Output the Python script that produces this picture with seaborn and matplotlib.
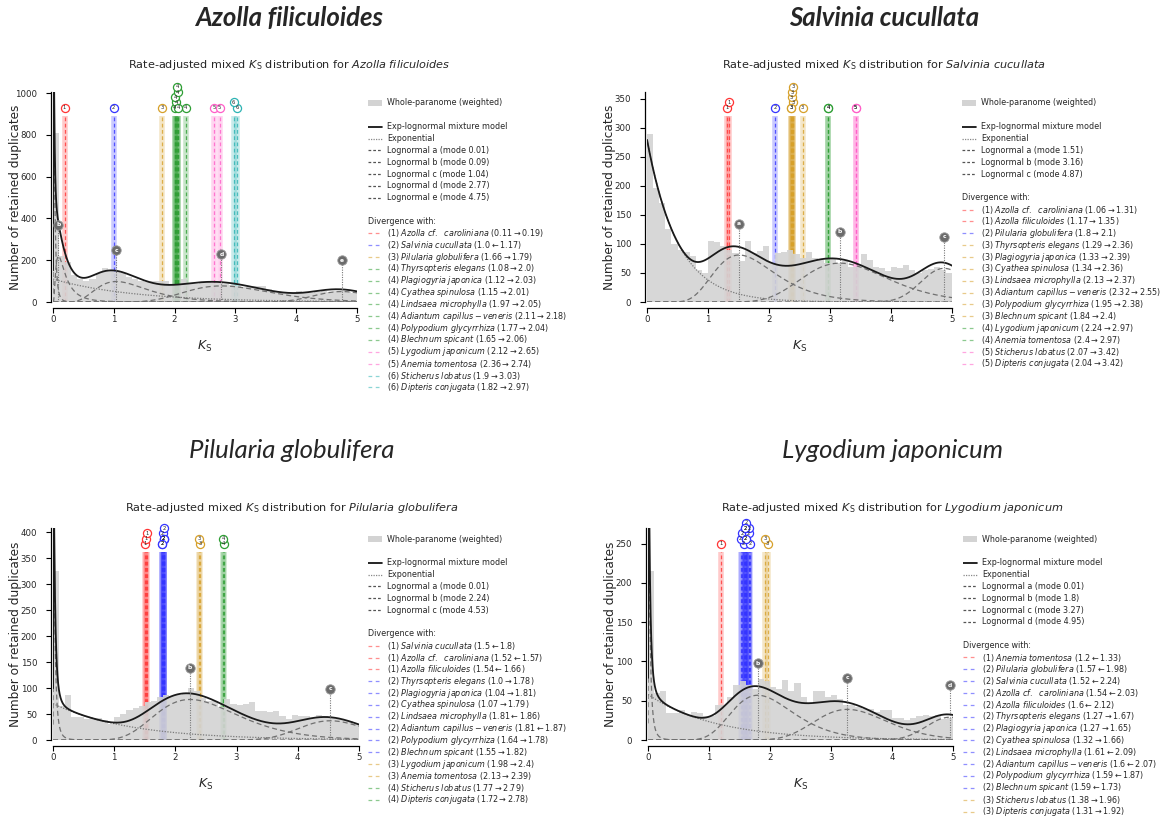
import numpy as np
import pandas as pd
import matplotlib
matplotlib.use("Agg")
import matplotlib.pyplot as plt
import seaborn as sns
from matplotlib.lines import Line2D
from matplotlib.patches import Rectangle

sns.set_style("ticks")
plt.rcParams["font.family"] = ["DejaVu Sans"]
plt.rcParams["mathtext.fontset"] = "dejavusans"

W, H, DPI = 1164, 822, 100

# ---------------------------------------------------------------- shared
KS_BIN_WIDTH = 0.1
KS_BIN_CENTERS = np.arange(50) * KS_BIN_WIDTH + KS_BIN_WIDTH / 2
GROUP_COLORS = {1: "#ff3434", 2: "#3434ff", 3: "#d6a02a", 4: "#2e9e34",
                5: "#ff5ec8", 6: "#2db3b3"}
KS_LABEL = r"$K_\mathrm{S}$"

# ---------------------------------------------------------------- Azolla filiculoides
azo_name = "Azolla filiculoides"
azo_counts = [810, 220, 190, 130, 110, 100, 110, 140, 165, 155,
              145, 140, 120, 110, 100, 95, 100, 100, 100, 85,
              80, 110, 90, 85, 95, 95, 90, 90, 85, 80,
              75, 70, 75, 75, 75, 60, 55, 50, 45, 45,
              55, 50, 45, 50, 55, 50, 55, 55, 50, 45]
azo_exp_amp, azo_exp_scale = 110, 1.3
azo_letters = ["a", "b", "c", "d", "e"]
azo_modes = [0.01, 0.09, 1.04, 2.77, 4.75]
azo_peaks = [1100, 220, 98, 77, 50]
azo_sigmas = [0.9, 0.8, 0.4, 0.25, 0.1]
azo_groups = [1, 2, 3, 4, 4, 4, 4, 4, 4, 4, 5, 5, 6, 6]
azo_species = ["Azolla cf.  caroliniana", "Salvinia cucullata", "Pilularia globulifera",
               "Thyrsopteris elegans", "Plagiogyria japonica", "Cyathea spinulosa",
               "Lindsaea microphylla", "Adiantum capillus-veneris", "Polypodium glycyrrhiza",
               "Blechnum spicant", "Lygodium japonicum", "Anemia tomentosa",
               "Sticherus lobatus", "Dipteris conjugata"]
azo_ks_left = [0.11, 1.0, 1.66, 1.08, 1.12, 1.15, 1.97, 2.11, 1.77, 1.65, 2.12, 2.36, 1.9, 1.82]
azo_ks_right = [0.19, 1.17, 1.79, 2.0, 2.03, 2.01, 2.05, 2.18, 2.04, 2.06, 2.65, 2.74, 3.03, 2.97]
azo_arrows = ["→", "←", "→", "→", "→", "→", "→", "→", "→", "→", "→", "→", "→", "→"]
azo_ymax, azo_yticks = 1005, [0, 200, 400, 600, 800, 1000]

# ---------------------------------------------------------------- Salvinia cucullata
sal_name = "Salvinia cucullata"
sal_counts = [290, 196, 170, 125, 100, 90, 87, 79, 56, 50,
              105, 103, 96, 90, 85, 70, 105, 85, 88, 96,
              67, 85, 87, 90, 82, 76, 87, 76, 73, 67,
              76, 67, 70, 61, 61, 82, 72, 61, 59, 53,
              61, 59, 63, 56, 50, 56, 57, 61, 56, 50]
sal_exp_amp, sal_exp_scale = 280, 0.5
sal_letters = ["a", "b", "c"]
sal_modes = [1.51, 3.16, 4.87]
sal_peaks = [81, 67, 58]
sal_sigmas = [0.33, 0.22, 0.08]
sal_groups = [1, 1, 2, 3, 3, 3, 3, 3, 3, 3, 4, 4, 5, 5]
sal_species = ["Azolla cf.  caroliniana", "Azolla filiculoides", "Pilularia globulifera",
               "Thyrsopteris elegans", "Plagiogyria japonica", "Cyathea spinulosa",
               "Lindsaea microphylla", "Adiantum capillus-veneris", "Polypodium glycyrrhiza",
               "Blechnum spicant", "Lygodium japonicum", "Anemia tomentosa",
               "Sticherus lobatus", "Dipteris conjugata"]
sal_ks_left = [1.06, 1.17, 1.8, 1.29, 1.33, 1.34, 2.13, 2.32, 1.95, 1.84, 2.24, 2.4, 2.07, 2.04]
sal_ks_right = [1.31, 1.35, 2.1, 2.36, 2.39, 2.36, 2.37, 2.55, 2.38, 2.4, 2.97, 2.97, 3.42, 3.42]
sal_arrows = ["→"] * 14
sal_ymax, sal_yticks = 362, [0, 50, 100, 150, 200, 250, 300, 350]

# ---------------------------------------------------------------- Pilularia globulifera
pil_name = "Pilularia globulifera"
pil_counts = [325, 65, 87, 45, 45, 40, 42, 43, 38, 30,
              45, 50, 58, 62, 65, 73, 75, 82, 86, 85,
              87, 90, 100, 95, 80, 75, 75, 63, 78, 70,
              68, 70, 74, 55, 55, 54, 56, 47, 40, 48,
              46, 47, 43, 48, 47, 45, 40, 38, 36, 30]
pil_exp_amp, pil_exp_scale = 70, 1.25
pil_letters = ["a", "b", "c"]
pil_modes = [0.01, 2.24, 4.53]
pil_peaks = [420, 78, 37]
pil_sigmas = [1.0, 0.3, 0.12]
pil_groups = [1, 1, 1, 2, 2, 2, 2, 2, 2, 2, 3, 3, 4, 4]
pil_species = ["Salvinia cucullata", "Azolla cf.  caroliniana", "Azolla filiculoides",
               "Thyrsopteris elegans", "Plagiogyria japonica", "Cyathea spinulosa",
               "Lindsaea microphylla", "Adiantum capillus-veneris", "Polypodium glycyrrhiza",
               "Blechnum spicant", "Lygodium japonicum", "Anemia tomentosa",
               "Sticherus lobatus", "Dipteris conjugata"]
pil_ks_left = [1.5, 1.52, 1.54, 1.0, 1.04, 1.07, 1.81, 1.81, 1.64, 1.55, 1.98, 2.13, 1.77, 1.72]
pil_ks_right = [1.8, 1.57, 1.66, 1.78, 1.81, 1.79, 1.86, 1.87, 1.78, 1.82, 2.4, 2.39, 2.79, 2.78]
pil_arrows = ["←", "←", "←", "→", "→", "→", "←", "←", "→", "→", "→", "→", "→", "→"]
pil_ymax, pil_yticks = 408, [0, 50, 100, 150, 200, 250, 300, 350, 400]

# ---------------------------------------------------------------- Lygodium japonicum
lyg_name = "Lygodium japonicum"
lyg_counts = [215, 60, 62, 35, 35, 38, 32, 36, 35, 30,
              30, 45, 45, 55, 70, 75, 70, 65, 78, 75,
              68, 65, 76, 62, 72, 55, 46, 62, 63, 55,
              57, 52, 45, 45, 42, 40, 40, 36, 38, 38,
              28, 28, 25, 28, 30, 32, 30, 32, 27, 28]
lyg_exp_amp, lyg_exp_scale = 58, 1.1
lyg_letters = ["a", "b", "c", "d"]
lyg_modes = [0.01, 1.8, 3.27, 4.95]
lyg_peaks = [300, 57, 39, 29]
lyg_sigmas = [1.0, 0.28, 0.18, 0.08]
lyg_groups = [1, 2, 2, 2, 2, 2, 2, 2, 2, 2, 2, 2, 3, 3]
lyg_species = ["Anemia tomentosa", "Pilularia globulifera", "Salvinia cucullata",
               "Azolla cf.  caroliniana", "Azolla filiculoides", "Thyrsopteris elegans",
               "Plagiogyria japonica", "Cyathea spinulosa", "Lindsaea microphylla",
               "Adiantum capillus-veneris", "Polypodium glycyrrhiza", "Blechnum spicant",
               "Sticherus lobatus", "Dipteris conjugata"]
lyg_ks_left = [1.2, 1.57, 1.52, 1.54, 1.6, 1.27, 1.27, 1.32, 1.61, 1.6, 1.59, 1.59, 1.38, 1.31]
lyg_ks_right = [1.33, 1.98, 2.24, 2.03, 2.12, 1.67, 1.65, 1.66, 2.09, 2.07, 1.87, 1.73, 1.96, 1.92]
lyg_arrows = ["←", "←", "←", "←", "←", "→", "→", "→", "←", "←", "←", "←", "→", "→"]
lyg_ymax, lyg_yticks = 270, [0, 50, 100, 150, 200, 250]


def lognormal_component(x, mode, peak, sigma):
    """Lognormal density with the given mode, scaled to the given peak height."""
    mu = np.log(mode) + sigma ** 2
    shape = np.exp(-(np.log(x) - mu) ** 2 / (2 * sigma ** 2)) / x
    at_mode = np.exp(-(np.log(mode) - mu) ** 2 / (2 * sigma ** 2)) / mode
    return peak * shape / at_mode


def italic(text):
    return r"$\it{" + text.replace(" ", r"\ ") + "}$"


def draw_legend(fig, x0, y0, rows, text_dx=19, row_h=11.85, fs=5.8):
    n = len(rows)
    lax = fig.add_axes([x0 / W, 1 - (y0 + (n - 0.5) * row_h) / H, 215 / W, n * row_h / H])
    lax.set_xlim(0, 215)
    lax.set_ylim((n - 0.5) * row_h, -0.5 * row_h)
    lax.axis("off")
    for i, (kind, label, color) in enumerate(rows):
        y = i * row_h
        if kind == "patch":
            lax.add_patch(Rectangle((0, y - 2.6), 14, 5.2, color="#d3d3d3", lw=0))
        elif kind == "solid":
            lax.add_line(Line2D([0, 14], [y, y], color="black", lw=1.2))
        elif kind == "dotted":
            lax.add_line(Line2D([0, 14], [y, y], color="#888888", lw=0.9, ls=(0, (1, 1))))
        elif kind == "dashed":
            lax.add_line(Line2D([0, 14], [y, y], color="#555555", lw=0.9, ls=(0, (2.2, 1.6))))
        elif kind == "div":
            lax.add_line(Line2D([0, 14], [y, y], color=color, lw=0.9, alpha=0.55, ls=(0, (3, 2.8))))
        if kind == "header":
            lax.text(0, y, label, fontsize=fs, va="center", ha="left")
        elif label:
            lax.text(text_dx, y, label, fontsize=fs, va="center", ha="left")


def draw_panel(fig, box, name, counts, exp_amp, exp_scale, letters, modes, peaks, sigmas,
               groups, species, ks_left, ks_right, arrows, ymax, yticks,
               heading_bold, heading_y, title_cx, title_y, legend_xy):
    left, top, right, bottom = box
    ax = fig.add_axes([left / W, 1 - bottom / H, (right - left) / W, (bottom - top) / H])
    ax.set_facecolor("none")

    # rate-adjusted divergence lines of each species pair
    ks_final = [r if a == "→" else l for l, r, a in zip(ks_left, ks_right, arrows)]
    for ks, g in zip(ks_final, groups):
        c = GROUP_COLORS[g]
        ax.vlines(ks, 0, 0.885 * ymax, colors=c, lw=4.0, alpha=0.26, zorder=1)
        ax.vlines(ks, 0, 0.885 * ymax, colors=c, lw=0.9, alpha=0.8,
                  linestyles=(0, (3, 2)), zorder=1.5)

    # whole-paranome Ks histogram
    hist_df = pd.DataFrame({"ks": KS_BIN_CENTERS, "n": np.asarray(counts, dtype=float)})
    sns.histplot(data=hist_df, x="ks", weights="n", binwidth=KS_BIN_WIDTH, binrange=(0, 5),
                 color="#d3d3d3", alpha=0.9, linewidth=0, ax=ax, zorder=2)

    # mixture model and its components
    x = np.linspace(0.001, 5, 2500)
    expo = exp_amp * np.exp(-x / exp_scale)
    comps = [lognormal_component(x, m, p, s) for m, p, s in zip(modes, peaks, sigmas)]
    total = expo + np.sum(comps, axis=0)
    sns.lineplot(x=x, y=expo, color="#7a7a7a", lw=0.9, linestyle=(0, (1, 1.2)),
                 estimator=None, ax=ax, zorder=3)
    for comp in comps:
        sns.lineplot(x=x, y=comp, color="#707070", lw=0.9, linestyle=(0, (4, 2.5)),
                     estimator=None, ax=ax, zorder=3)
    sns.lineplot(x=x, y=total, color="#1a1a1a", lw=1.3, estimator=None, ax=ax, zorder=4)

    # component mode markers
    for letter, m, p in zip(letters, modes, peaks):
        yy = p + 0.15 * ymax
        if yy > ymax:
            continue
        ax.vlines(m, 0, yy, colors="#777777", lw=0.8, linestyles=(0, (1, 1.2)), zorder=5)
        ax.scatter([m], [yy], s=46, color="#6b6b6b", edgecolors="#9b9b9b", lw=0.6,
                   zorder=6, clip_on=False)
        ax.text(m, yy, letter, color="white", fontsize=4.3, ha="center", va="center",
                zorder=6.5, fontweight="bold")

    # numbered circles above the divergence lines; equal values share a circle,
    # nearby ones are stacked upwards
    placed = []
    for ks, g in zip(ks_final, groups):
        same = [lv for px, lv in placed if abs(ks - px) < 0.005]
        if same:
            level = same[0]
        else:
            level = 0
            while any(lv == level and abs(ks - px) < 0.06 for px, lv in placed):
                level += 1
        placed.append((ks, level))
        yy = (0.925 + 0.025 * level) * ymax
        ax.scatter([ks], [yy], s=34, facecolor="white", edgecolors=GROUP_COLORS[g],
                   lw=0.9, zorder=7, clip_on=False)
        ax.text(ks, yy, str(g), fontsize=3.8, ha="center", va="center", zorder=7.5,
                clip_on=False)

    ax.set_xlim(0, 5)
    ax.set_ylim(0, ymax)
    ax.set_xticks([0, 1, 2, 3, 4, 5])
    ax.set_yticks(yticks)
    ax.tick_params(labelsize=6.2, length=3.6, width=0.8, color="black")
    ax.tick_params(axis="y", pad=6.5)
    ax.tick_params(axis="x", pad=1.5)
    plt.setp(ax.get_yticklabels(), rotation=90, va="center")
    sns.despine(ax=ax)
    ax.spines["bottom"].set_position(("outward", 4))
    ax.spines["left"].set_position(("outward", 1.2))
    for sp in ("left", "bottom"):
        ax.spines[sp].set_linewidth(0.9)
        ax.spines[sp].set_color("black")
    ax.set_xlabel(KS_LABEL, fontsize=9)
    ax.set_ylabel("Number of retained duplicates", fontsize=8.7)
    axw, axh = right - left, bottom - top
    ax.xaxis.set_label_coords(0.5, -37 / axh)
    ax.yaxis.set_label_coords(-31 / axw, 0.5)

    # headings
    fig.text(title_cx / W, 1 - heading_y / H, name, ha="center", va="baseline",
             fontsize=18.5, family=["Lato", "DejaVu Sans"], style="italic",
             fontweight="bold" if heading_bold else "normal")
    fig.text(title_cx / W, 1 - title_y / H,
             r"Rate-adjusted mixed $K_\mathrm{S}$ distribution for " + italic(name),
             ha="center", va="center", fontsize=8.1)

    # legend
    rows = [("patch", "Whole-paranome (weighted)", None), ("blank", "", None),
            ("solid", "Exp-lognormal mixture model", None), ("dotted", "Exponential", None)]
    rows += [("dashed", f"Lognormal {l} (mode {m})", None) for l, m in zip(letters, modes)]
    rows += [("blank", "", None), ("header", "Divergence with:", None)]
    for g, sp, l, r, a in zip(groups, species, ks_left, ks_right, arrows):
        rows.append(("div", f"({g}) " + italic(sp) + f" ({l}\u2009{a}\u2009{r})", GROUP_COLORS[g]))
    draw_legend(fig, legend_xy[0], legend_xy[1], rows)


fig = plt.figure(figsize=(W / DPI, H / DPI), dpi=DPI)

draw_panel(fig, (53, 92, 357, 302), azo_name, azo_counts, azo_exp_amp, azo_exp_scale,
           azo_letters, azo_modes, azo_peaks, azo_sigmas, azo_groups, azo_species,
           azo_ks_left, azo_ks_right, azo_arrows, azo_ymax, azo_yticks,
           True, 26, 289, 65, (368, 103))
draw_panel(fig, (647, 92, 952, 302), sal_name, sal_counts, sal_exp_amp, sal_exp_scale,
           sal_letters, sal_modes, sal_peaks, sal_sigmas, sal_groups, sal_species,
           sal_ks_left, sal_ks_right, sal_arrows, sal_ymax, sal_yticks,
           True, 26, 884, 65, (962, 103))
draw_panel(fig, (53, 528, 359, 740), pil_name, pil_counts, pil_exp_amp, pil_exp_scale,
           pil_letters, pil_modes, pil_peaks, pil_sigmas, pil_groups, pil_species,
           pil_ks_left, pil_ks_right, pil_arrows, pil_ymax, pil_yticks,
           False, 458, 292, 508, (368, 539))
draw_panel(fig, (648, 528, 953, 740), lyg_name, lyg_counts, lyg_exp_amp, lyg_exp_scale,
           lyg_letters, lyg_modes, lyg_peaks, lyg_sigmas, lyg_groups, lyg_species,
           lyg_ks_left, lyg_ks_right, lyg_arrows, lyg_ymax, lyg_yticks,
           False, 458, 892, 508, (963, 539))

fig.savefig("out.png", dpi=DPI)
